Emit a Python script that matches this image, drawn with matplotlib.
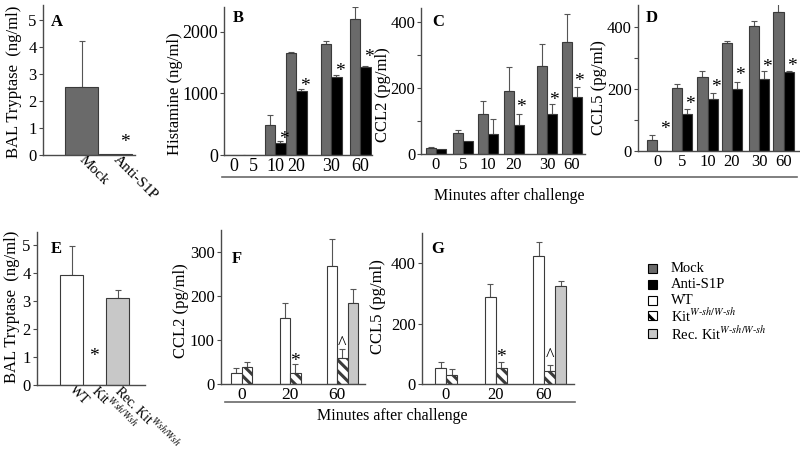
import matplotlib
matplotlib.use('Agg')
import matplotlib.pyplot as plt
from matplotlib.patches import Rectangle
from matplotlib.lines import Line2D
import numpy as np

plt.rcParams['font.family'] = ['Liberation Serif', 'DejaVu Serif']
plt.rcParams['mathtext.fontset'] = 'stix'
plt.rcParams['hatch.linewidth'] = 2.2

# ---------------- data ----------------
A_cats = ['Mock', 'Anti-S1P']
A_vals = [2.52, 0.05]
A_err = [1.68, 0.0]

B_minutes = ['0', '5', '10', '20', '30', '60']
B_mock = [5, 8, 490, 1650, 1800, 2200]
B_mock_err = [0, 0, 160, 20, 50, 195]
B_anti = [3, 5, 195, 1040, 1260, 1420]
B_anti_err = [0, 0, 35, 30, 30, 20]

C_minutes = ['0', '5', '10', '20', '30', '60']
C_mock = [17, 63, 122, 191, 267, 340]
C_mock_err = [5, 10, 38, 73, 67, 85]
C_anti = [14, 41, 60, 88, 123, 173]
C_anti_err = [0, 0, 47, 34, 28, 30]

D_minutes = ['0', '5', '10', '20', '30', '60']
D_mock = [36, 202, 238, 347, 404, 450]
D_mock_err = [16, 14, 20, 8, 15, 37]
D_anti = [0, 119, 168, 200, 231, 254]
D_anti_err = [0, 18, 20, 24, 26, 5]

E_cats = ['WT', r'Kit$^{Wsh/Wsh}$', r'Rec. Kit$^{Wsh/Wsh}$']
E_vals = [3.93, 0.0, 3.1]
E_err = [1.02, 0.0, 0.3]

F_minutes = ['0', '20', '60']
F_wt = [26, 149, 268]
F_wt_err = [10, 36, 62]
F_kit = [38, 26, 59]
F_kit_err = [13, 19, 20]
F_rec = [np.nan, np.nan, 184]
F_rec_err = [0, 0, 33]

G_minutes = ['0', '20', '60']
G_wt = [53, 288, 425]
G_wt_err = [19, 43, 45]
G_kit = [31, 53, 42]
G_kit_err = [19, 20, 20]
G_rec = [np.nan, np.nan, 325]
G_rec_err = [0, 0, 17]

legend_labels = ['Mock', 'Anti-S1P', 'WT', r'Kit$^{W\text{-}sh/W\text{-}sh}$',
                 r'Rec. Kit$^{W\text{-}sh/W\text{-}sh}$']

# ---------------- style ----------------
MOCK = '#6a6a6a'
ANTI = '#000000'
WT = '#ffffff'
REC = '#c8c8c8'
EDGE = '#3a3a3a'
AXC = '#4a4a4a'
ERRC = '#555555'
HATCH = '\\\\\\'

W, H = 800, 453
fig = plt.figure(figsize=(8, 4.53), dpi=100)


def add_ax(l, t, r, b, ymax, tsize=12):
    ax = fig.add_axes([l / W, 1 - b / H, (r - l) / W, (b - t) / H])
    ax.set_xlim(0, r - l)
    ax.set_ylim(0, ymax)
    for s in ['top', 'right']:
        ax.spines[s].set_visible(False)
    for s in ['left', 'bottom']:
        ax.spines[s].set_color(AXC)
        ax.spines[s].set_linewidth(1.0)
    ax.tick_params(axis='y', direction='out', length=3, width=0.8, color=AXC,
                   labelsize=tsize, pad=1.5)
    ax.tick_params(axis='x', length=0, labelsize=tsize, pad=2)
    return ax


def bars(ax, x, vals, err, color, width, hatch=None, edge=EDGE):
    vals = np.asarray(vals, dtype=float)
    err = np.asarray(err, dtype=float)
    m = ~np.isnan(vals)
    x = np.asarray(x, dtype=float)
    ax.bar(x[m], vals[m], width=width, color=color, edgecolor=edge,
           linewidth=0.8, hatch=hatch, zorder=2)
    e = m & (err > 0)
    if e.any():
        ax.errorbar(x[e], vals[e], yerr=[np.zeros(e.sum()), err[e]], fmt='none',
                    ecolor=ERRC, elinewidth=0.8, capsize=2.5, capthick=0.8, zorder=1)


def star(ax, x, y, s='*', size=14):
    ax.annotate(s, (x, y), xytext=(0, -9), textcoords='offset pixels',
                ha='center', va='baseline', fontsize=size)


def letter(x, y, s):
    fig.text(x / W, 1 - y / H, s, fontsize=12, fontweight='bold', ha='center', va='center')


def ylab(x, y, s):
    fig.text(x / W, 1 - y / H, s, fontsize=12, rotation=90, ha='center', va='center')


# ---------------- Panel A ----------------
axA = add_ax(43, 5, 135, 155, 5.55)
A_X = [38.5, 72]
bars(axA, A_X, A_vals, A_err, [MOCK, ANTI], 33)
axA.set_yticks(range(6))
axA.set_xticks(A_X)
axA.set_xticklabels(A_cats, rotation=-45, rotation_mode='anchor', ha='left', va='center',
                    fontsize=11)
star(axA, 82, 0.63)
letter(57, 22, 'A')
ylab(14, 82, 'BAL Tryptase  (ng/ml)')

# ---------------- Panel B ----------------
axB = add_ax(224, 7, 372, 155, 2400, tsize=13)
B_X = np.array([10, 29, 51, 72, 107, 136])
w = 10.5
bars(axB, B_X - w / 2, B_mock, B_mock_err, MOCK, w)
bars(axB, B_X + w / 2, B_anti, B_anti_err, ANTI, w)
axB.set_yticks([0, 1000, 2000])
axB.set_xticks(B_X)
axB.set_xticklabels(B_minutes)
for i, dy in zip([2, 3, 4, 5], [324, 1188, 1427, 1648]):
    star(axB, B_X[i] + w / 2 + 4, dy)
letter(238, 18, 'B')
ylab(175, 94, 'Histamine (ng/ml)')

# ---------------- Panel C ----------------
axC = add_ax(421, 8, 585, 154, 444)
C_X = np.array([15, 42, 67, 93, 126, 151])
w = 10.3
bars(axC, C_X - w / 2, C_mock, C_mock_err, MOCK, w)
bars(axC, C_X + w / 2, C_anti, C_anti_err, ANTI, w)
axC.set_yticks([0, 200, 400])
axC.set_yticks([100, 300], minor=True)
axC.tick_params(axis='y', which='both', length=3, width=0.8, color=AXC, pad=1)
axC.set_xticks(C_X)
axC.set_xticklabels(C_minutes)
for i, dy in zip([3, 4, 5], [156, 175, 235]):
    star(axC, C_X[i] + w / 2 + 2, dy)
letter(438, 22, 'C')
ylab(383, 95, 'CCL2 (pg/ml)')

# ---------------- Panel D ----------------
axD = add_ax(638, 5, 800, 151, 471)
D_X = np.array([19, 44, 69.5, 94, 121, 145.5])
bars(axD, D_X - w / 2, D_mock, D_mock_err, MOCK, w)
bars(axD, D_X + w / 2, D_anti, D_anti_err, ANTI, w)
axD.set_yticks([0, 200, 400])
axD.set_yticks([100, 300], minor=True)
axD.tick_params(axis='y', which='minor', length=3, width=0.8, color=AXC)
axD.set_xticks(D_X)
axD.set_xticklabels(D_minutes)
for i, dy in zip(range(6), [84, 164, 218, 259, 285, 288]):
    star(axD, D_X[i] + w / 2 + 3, dy)
letter(652, 18, 'D')
ylab(599, 88, 'CCL5 (pg/ml)')

# ---------------- Panel E ----------------
axE = add_ax(37, 232, 145, 385, 5.46)
E_X = [34.5, 57, 80.5]
bars(axE, E_X, E_vals, E_err, [WT, WT, REC], 23)
axE.set_yticks(range(6))
axE.set_xticks(E_X)
axE.set_xticklabels(E_cats, rotation=-45, rotation_mode='anchor', ha='left', va='center',
                    fontsize=10)
star(axE, E_X[1], 1.18)
letter(56, 249, 'E')
ylab(12, 307, 'BAL Tryptase  (ng/ml)')

# ---------------- Panel F ----------------
axF = add_ax(221, 230, 365, 384, 350)
F_X = np.array([20.7, 69, 116])
w = 10.5
bars(axF, F_X - w / 2, F_wt, F_wt_err, WT, w)
bars(axF, F_X + w / 2, F_kit, F_kit_err, WT, w, hatch=HATCH)
bars(axF, F_X + 1.5 * w, F_rec, F_rec_err, REC, w)
axF.set_yticks([0, 100, 200, 300])
axF.set_xticks(F_X)
axF.set_xticklabels(F_minutes, fontsize=12.5)
star(axF, F_X[1] + w / 2, 62)
star(axF, F_X[2] + w / 2, 100, '^', 13)
letter(237, 259, 'F')
ylab(181, 311, 'CCL2 (pg/ml)')

# ---------------- Panel G ----------------
axG = add_ax(422, 233, 574, 384, 500)
G_X = np.array([24, 73.7, 122])
w = 11
bars(axG, G_X - w / 2, G_wt, G_wt_err, WT, w)
bars(axG, G_X + w / 2, G_kit, G_kit_err, WT, w, hatch=HATCH)
bars(axG, G_X + 1.5 * w, G_rec, G_rec_err, REC, w)
axG.set_yticks([0, 200, 400])
axG.set_xticks(G_X)
axG.set_xticklabels(G_minutes)
star(axG, G_X[1] + w / 2, 104)
star(axG, G_X[2] + w / 2, 107, '^', 13)
letter(438, 249, 'G')
ylab(378, 307, 'CCL5 (pg/ml)')

# ---------------- shared x labels ----------------
fig.add_artist(Line2D([222 / W, 797 / W], [1 - 177 / H, 1 - 177 / H], color='#6a6a6a', lw=1.2))
fig.text(509 / W, 1 - 196 / H, 'Minutes after challenge', fontsize=11.5, ha='center', va='center')
fig.add_artist(Line2D([225 / W, 575 / W], [1 - 402 / H, 1 - 402 / H], color='#6a6a6a', lw=1.2))
fig.text(392 / W, 1 - 416 / H, 'Minutes after challenge', fontsize=11.5, ha='center', va='center')

# ---------------- legend (drawn manually) ----------------
leg_faces = [MOCK, ANTI, WT, WT, REC]
leg_hatch = [None, None, None, '\\\\', None]
leg_y = [268, 284, 300, 315, 333]
for lab, fc, hc, yc in zip(legend_labels, leg_faces, leg_hatch, leg_y):
    fig.add_artist(Rectangle((648 / W, 1 - (yc + 4.5) / H), 9 / W, 9 / H,
                             transform=fig.transFigure, facecolor=fc, edgecolor='black',
                             linewidth=0.8, hatch=hc))
    fig.text(671 / W, 1 - yc / H, lab, fontsize=10.5, ha='left', va='center')

fig.savefig('out.png', dpi=100)
